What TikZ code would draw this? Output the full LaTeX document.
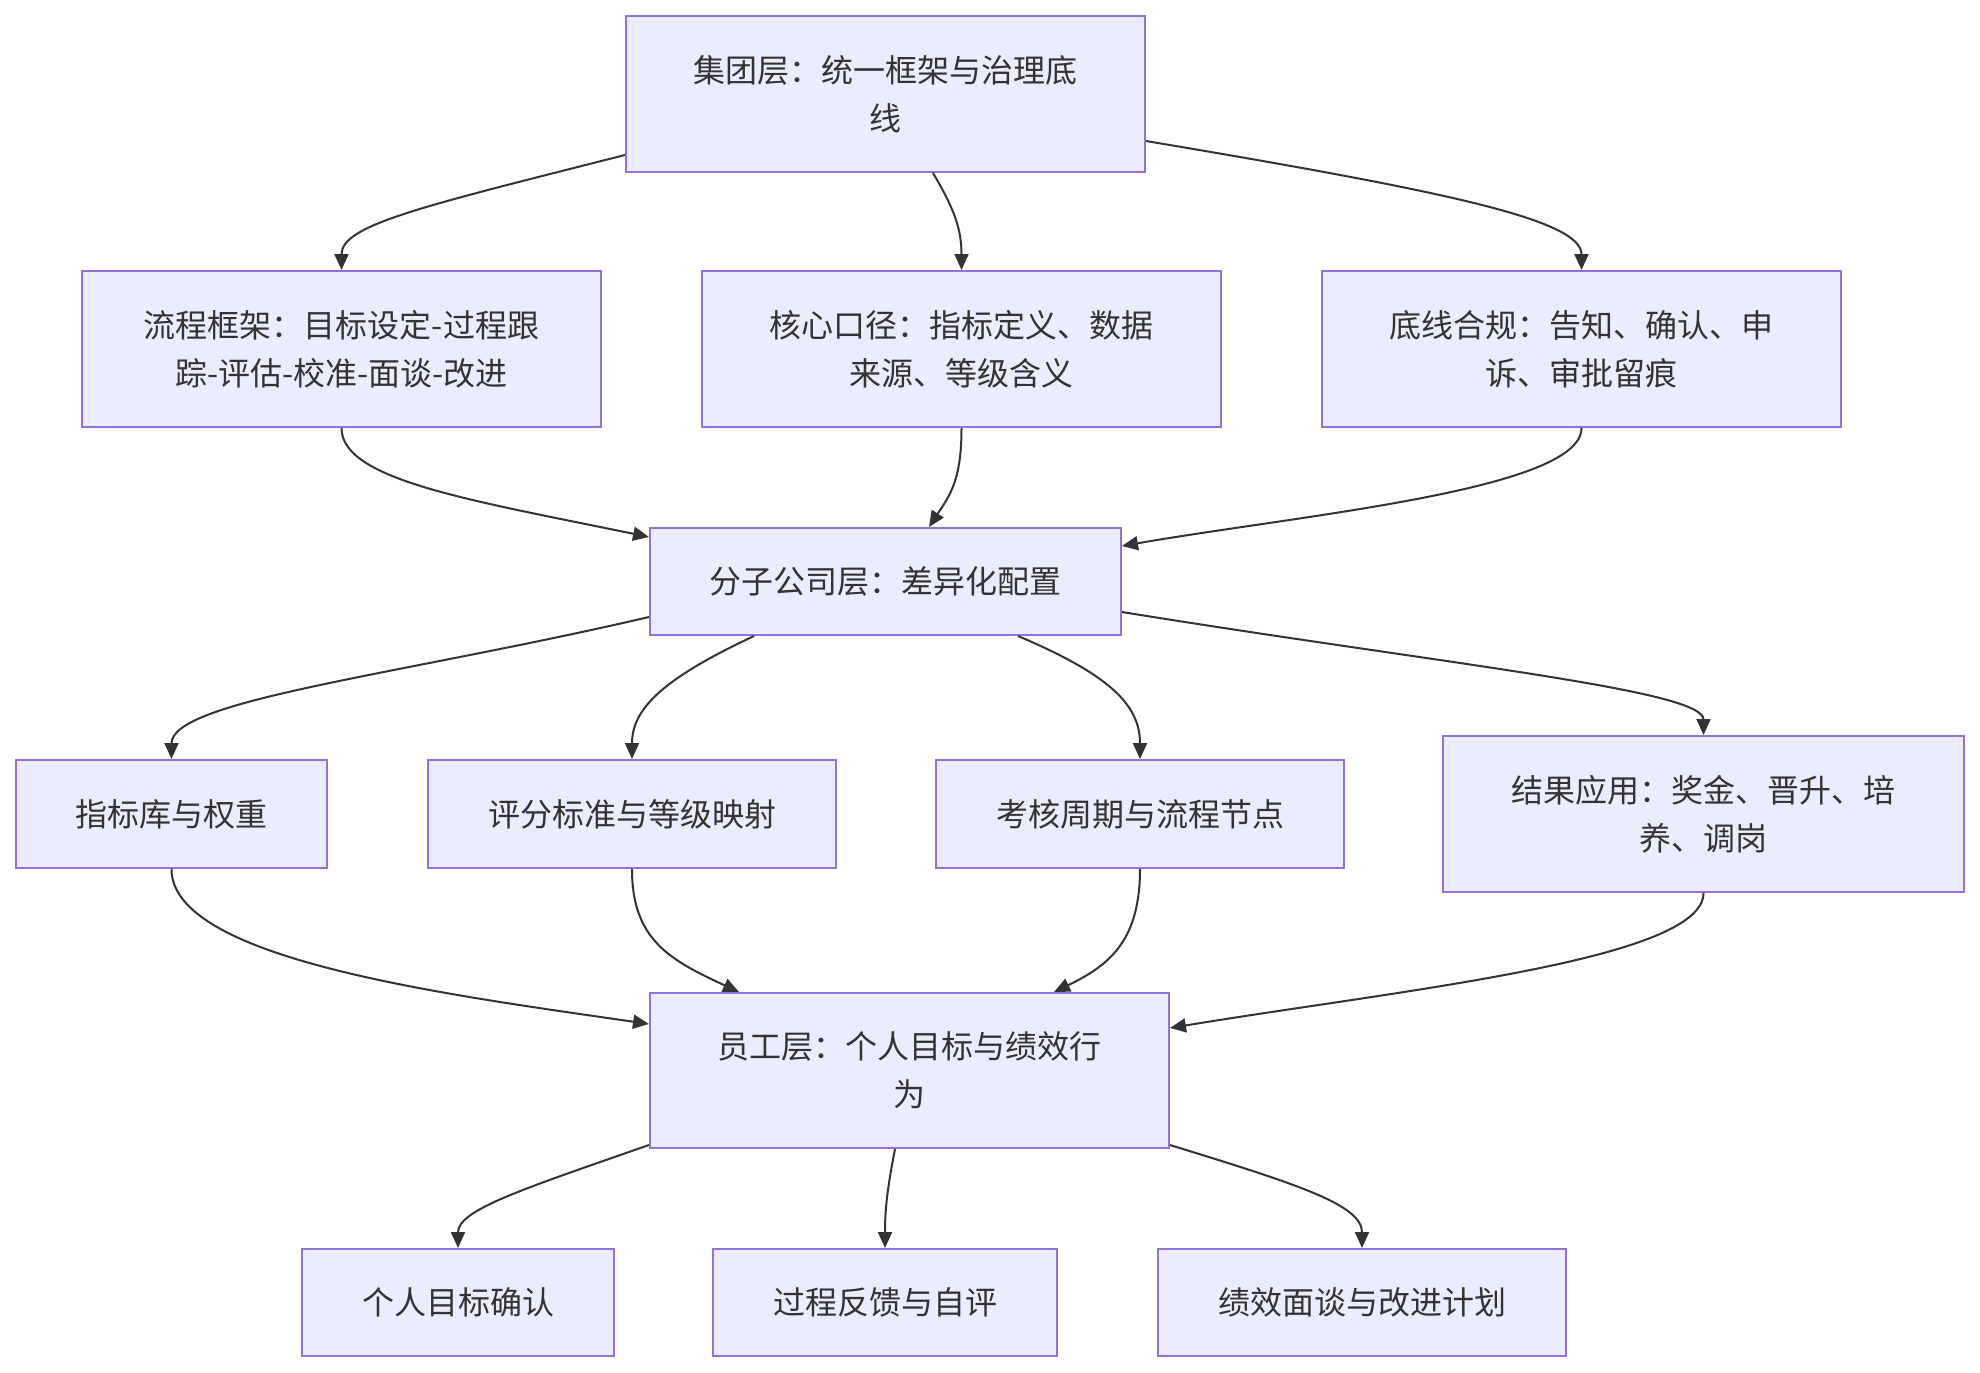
\documentclass[tikz,border=0pt]{standalone}
\usepackage{fontspec}
\setmainfont{Noto Sans CJK SC}
\usetikzlibrary{arrows.meta}
\definecolor{boxfill}{HTML}{ECECFF}
\definecolor{boxline}{HTML}{9370DB}
\definecolor{ink}{HTML}{333333}
\begin{document}
\begin{tikzpicture}[x=0.5pt,y=-0.5pt,
  box/.style={draw=boxline, fill=boxfill, line width=1pt, inner sep=0pt, align=center,
    text=ink, font=\fontsize{16pt}{24pt}\selectfont},
  wide/.style={box, minimum width=259.5pt, minimum height=78pt},
  link/.style={draw=ink, line width=1pt, -{Triangle[length=8pt,width=7pt]}}]
\useasboundingbox (0,0) rectangle (1980,1372);
\fill[white] (0,0) rectangle (1980,1372);

\node[wide] (top) at (885.5,94) {集团层：统一框架与治理底\\线};
\node[wide] (a1) at (341.5,349) {流程框架：目标设定-过程跟\\踪-评估-校准-面谈-改进};
\node[wide] (a2) at (961.5,349) {核心口径：指标定义、数据\\来源、等级含义};
\node[wide] (a3) at (1581.5,349) {底线合规：告知、确认、申\\诉、审批留痕};
\node[box, minimum width=235.5pt, minimum height=53.5pt] (fz) at (885.5,581.5) {分子公司层：差异化配置};
\node[box, minimum width=155.5pt, minimum height=54pt] (b1) at (171.5,814) {指标库与权重};
\node[box, minimum width=204pt, minimum height=54pt] (b2) at (632,814) {评分标准与等级映射};
\node[box, minimum width=204pt, minimum height=54pt] (b3) at (1140,814) {考核周期与流程节点};
\node[box, minimum width=260.5pt, minimum height=78pt] (b4) at (1703.5,814) {结果应用：奖金、晋升、培\\养、调岗};
\node[box, minimum width=259.5pt, minimum height=77.5pt] (emp) at (909.5,1070.5) {员工层：个人目标与绩效行\\为};
\node[box, minimum width=156pt, minimum height=53.5pt] (c1) at (458,1302.5) {个人目标确认};
\node[box, minimum width=172pt, minimum height=53.5pt] (c2) at (885,1302.5) {过程反馈与自评};
\node[box, minimum width=204pt, minimum height=53.5pt] (c3) at (1362,1302.5) {绩效面谈与改进计划};

\draw[link] ([yshift=-30.5pt]top.west) .. controls (420,207) and (341.5,225) .. (a1.north);
\draw[link] ([xshift=23.75pt]top.south) .. controls (955,210) and (961.5,230) .. (a2.north);
\draw[link] ([yshift=-23.5pt]top.east) .. controls (1450,192) and (1581.5,220) .. (a3.north);

\draw[link] (a1.south) .. controls (341.5,480) and (470,500) .. ([yshift=22.25pt]fz.west);
\draw[link] (a2.south) .. controls (961.5,480) and (950,495) .. ([xshift=21.75pt]fz.north);
\draw[link] (a3.south) .. controls (1581.5,490) and (1300,515) .. ([yshift=17.75pt]fz.east);

\draw[link] ([yshift=-17.75pt]fz.west) .. controls (400,675) and (171.5,700) .. (b1.north);
\draw[link] ([xshift=-65.75pt]fz.south) .. controls (660,680) and (632,710) .. (b2.north);
\draw[link] ([xshift=66.25pt]fz.south) .. controls (1110,675) and (1140,705) .. (b3.north);
\draw[link] ([yshift=-15.25pt]fz.east) .. controls (1450,665) and (1703.5,690) .. (b4.north);

\draw[link] (b1.south) .. controls (171.5,960) and (450,995) .. ([yshift=23.25pt]emp.west);
\draw[link] (b2.south) .. controls (632,940) and (670,960) .. ([xshift=-85.25pt]emp.north);
\draw[link] (b3.south) .. controls (1140,940) and (1110,965) .. ([xshift=72.25pt]emp.north);
\draw[link] (b4.south) .. controls (1703.5,960) and (1400,990) .. ([yshift=21.25pt]emp.east);

\draw[link] ([yshift=-37.25pt]emp.west) .. controls (520,1190) and (458,1210) .. (c1.north);
\draw[link] ([xshift=-7.25pt]emp.south) .. controls (887,1190) and (885,1210) .. (c2.north);
\draw[link] ([yshift=-37.25pt]emp.east) .. controls (1300,1185) and (1362,1205) .. (c3.north);
\end{tikzpicture}
\end{document}
